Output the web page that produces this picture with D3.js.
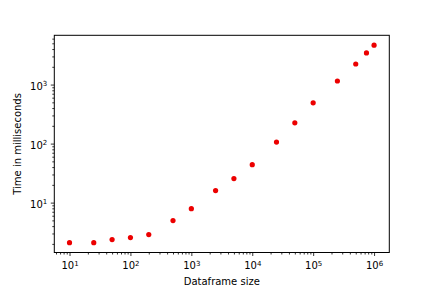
<!DOCTYPE html>
<html>
<head>
<meta charset="utf-8">
<script src="https://cdn.jsdelivr.net/npm/d3@7"></script>
<style>
  body { margin: 0; background: #fff; }
  svg { display: block; font-family: "DejaVu Sans", sans-serif; }
  .axis path, .axis line { stroke: #000; stroke-width: 0.8; }
  .axis path { stroke-width: 1; }
</style>
</head>
<body>
<svg id="chart" width="432" height="288"></svg>
<script>
// dataframe sizes and measured times (ms)
const sizes = [10, 25, 50, 100, 200, 500, 1000, 2500, 5000, 10000, 25000, 50000,
               100000, 250000, 500000, 750000, 1000000];
const times = [2.1, 2.1, 2.37, 2.56, 2.88, 4.97, 7.9, 16, 25.5, 44, 106, 225,
               490, 1150, 2230, 3430, 4650];
const xTickExps = [1, 2, 3, 4, 5, 6];
const yTickExps = [1, 2, 3];

const svg = d3.select("#chart");
const box = {left: 54.3, right: 389.3, top: 35.3, bottom: 252.5};

// matplotlib-style 5% margins in log space
function logDomain(vals) {
    const lo = Math.log10(d3.min(vals)), hi = Math.log10(d3.max(vals));
    const m = (hi - lo) * 0.05;
    return [Math.pow(10, lo - m), Math.pow(10, hi + m)];
}

const x = d3.scaleLog().domain(logDomain(sizes)).range([box.left, box.right]);
const y = d3.scaleLog().domain(logDomain(times)).range([box.bottom, box.top]);

function minorTicks(scale) {
    const [a, b] = scale.domain();
    const out = [];
    for (let e = Math.floor(Math.log10(a)); e <= Math.ceil(Math.log10(b)); e++) {
        for (let k = 2; k <= 9; k++) {
            const v = k * Math.pow(10, e);
            if (v >= a && v <= b) out.push(v);
        }
    }
    return out;
}

function powLabel(sel) {
    sel.each(function (d) {
        const t = d3.select(this).text("");
        t.append("tspan").text("10");
        t.append("tspan").attr("dy", "-0.45em").attr("font-size", "7px")
            .text(Math.round(Math.log10(d)));
    });
}

// x axis
svg.append("g").attr("class", "axis")
    .attr("transform", `translate(0,${box.bottom})`)
    .call(d3.axisBottom(x).tickValues(minorTicks(x)).tickFormat("").tickSize(2).tickSizeOuter(0))
    .call(g => g.select(".domain").remove());
svg.append("g").attr("class", "axis")
    .attr("transform", `translate(0,${box.bottom})`)
    .call(d3.axisBottom(x).tickValues(xTickExps.map(e => Math.pow(10, e))).tickSize(3.5).tickSizeOuter(0).tickPadding(3.5))
    .call(g => g.select(".domain").remove())
    .call(g => g.selectAll("text").attr("font-size", 10).attr("font-family", "DejaVu Sans").attr("fill", "#000")
        .attr("dy", "0.95em").call(powLabel));

// y axis
svg.append("g").attr("class", "axis")
    .attr("transform", `translate(${box.left},0)`)
    .call(d3.axisLeft(y).tickValues(minorTicks(y)).tickFormat("").tickSize(2).tickSizeOuter(0))
    .call(g => g.select(".domain").remove());
svg.append("g").attr("class", "axis")
    .attr("transform", `translate(${box.left},0)`)
    .call(d3.axisLeft(y).tickValues(yTickExps.map(e => Math.pow(10, e))).tickSize(3.5).tickSizeOuter(0).tickPadding(3.5))
    .call(g => g.select(".domain").remove())
    .call(g => g.selectAll("text").attr("font-size", 10).attr("font-family", "DejaVu Sans").attr("fill", "#000")
        .attr("dy", "0.45em").call(powLabel));

// frame
svg.append("rect")
    .attr("x", box.left).attr("y", box.top)
    .attr("width", box.right - box.left).attr("height", box.bottom - box.top)
    .attr("fill", "none").attr("stroke", "#000").attr("stroke-width", 1);

// points
svg.append("g")
    .selectAll("circle")
    .data(sizes.map((s, i) => ({s, t: times[i]})))
    .join("circle")
    .attr("cx", d => x(d.s))
    .attr("cy", d => y(d.t))
    .attr("r", 2.6)
    .attr("fill", "#ec0000");

// labels
svg.append("text")
    .attr("x", (box.left + box.right) / 2).attr("y", 285)
    .attr("text-anchor", "middle").attr("font-size", 10)
    .text("Dataframe size");
svg.append("text")
    .attr("transform", `translate(21,${(box.top + box.bottom) / 2}) rotate(-90)`)
    .attr("text-anchor", "middle").attr("font-size", 10)
    .text("Time in milliseconds");
</script>
</body>
</html>
